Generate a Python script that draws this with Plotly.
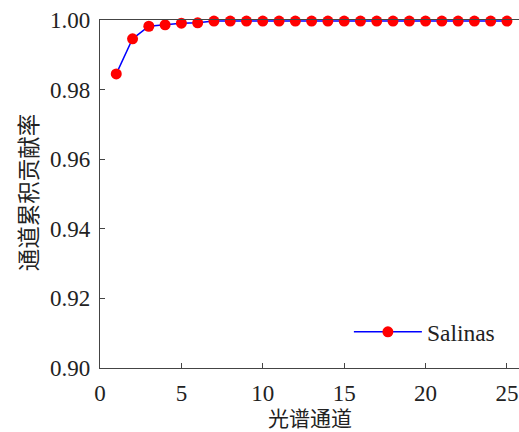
import plotly.graph_objects as go

channels = list(range(1, 26))
ratio = [0.9845, 0.9946, 0.9982, 0.9986, 0.9991, 0.9992] + [0.9997] * 19
series_name = "Salinas"
x_ticks = [0, 5, 10, 15, 20, 25]
y_ticks = [0.90, 0.92, 0.94, 0.96, 0.98, 1.00]
y_tick_labels = ["0.90", "0.92", "0.94", "0.96", "0.98", "1.00"]
x_title = "光谱通道"
y_title = "通道累积贡献率"

font_fam = "Liberation Serif, Times New Roman, Noto Sans CJK SC"
cjk_fam = "Noto Sans CJK SC"

fig = go.Figure()
fig.add_trace(go.Scatter(
    x=channels, y=ratio, name=series_name, mode="lines+markers",
    line=dict(color="#0000ff", width=1.5),
    marker=dict(color="#ff0000", size=11, line=dict(width=0)),
    cliponaxis=False,
))

axis_common = dict(
    showgrid=False, zeroline=False, showline=True, linecolor="#444444", linewidth=1.2,
    ticks="inside", ticklen=5, tickcolor="#444444", tickwidth=1.2,
    tickfont=dict(family=font_fam, size=23, color="#222222"),
    ticklabeloverflow="allow",
)

fig.update_layout(
    width=519, height=432,
    margin=dict(l=100, r=0, t=20, b=64, pad=0),
    plot_bgcolor="white", paper_bgcolor="white",
    font=dict(family=font_fam, color="#222222"),
    xaxis=dict(range=[0, 25.74], tickvals=x_ticks, mirror=True, ticklabelstandoff=4,
               **axis_common),
    yaxis=dict(range=[0.90, 1.00], tickvals=y_ticks, ticktext=y_tick_labels,
               ticklabelstandoff=4, **axis_common),
    showlegend=True,
    legend=dict(x=0.594, y=0.1034, xanchor="left", yanchor="middle",
                bgcolor="rgba(0,0,0,0)", borderwidth=0, itemwidth=68,
                font=dict(family=font_fam, size=23.5, color="#222222")),
    annotations=[
        dict(text=x_title, xref="paper", yref="paper", x=0.5, y=-0.141,
             xanchor="center", yanchor="middle", showarrow=False,
             font=dict(family=cjk_fam, size=21, color="#222222")),
        dict(text=y_title, xref="paper", yref="paper", x=-0.174, y=0.505,
             xanchor="center", yanchor="middle", showarrow=False, textangle=-90,
             font=dict(family=cjk_fam, size=22.5, color="#222222")),
    ],
)

fig.write_html(
    "out.html",
    config={"displayModeBar": False},
    post_script="document.body.style.margin='0';document.body.style.overflow='hidden';",
)
